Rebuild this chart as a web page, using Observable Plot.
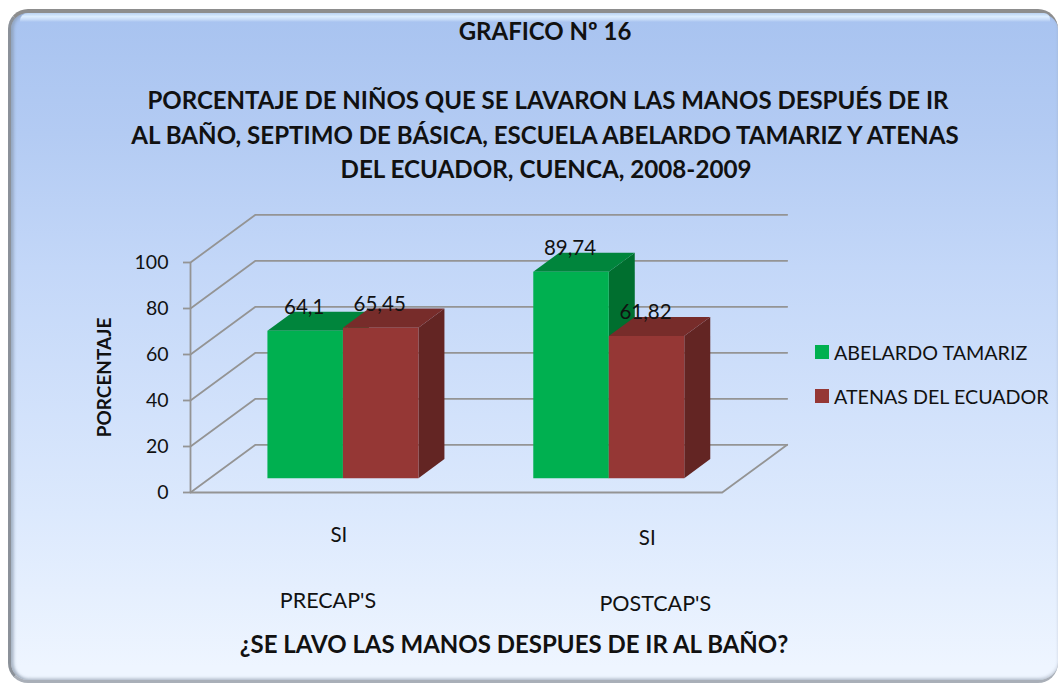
<!DOCTYPE html>
<html>
<head>
<meta charset="utf-8">
<script src="https://cdn.jsdelivr.net/npm/d3@7"></script>
<script src="https://cdn.jsdelivr.net/npm/@observablehq/plot@0.6"></script>
<style>
html,body{margin:0;padding:0;background:#fff;}
#page{position:relative;width:1058px;height:684px;overflow:hidden;font-family:Lato,sans-serif;color:#111;}
#panel{position:absolute;left:8px;top:9px;width:1050px;height:674px;box-sizing:border-box;border-radius:20px;
 border-top:4px solid #8d8d8d;border-left:3px solid #8b9199;border-bottom:3px solid #a9afb8;
 box-shadow:inset 3px 0 3px rgba(130,145,165,.55), inset 0 -2px 3px rgba(150,160,175,.4);
 background:linear-gradient(180deg,#a8c3f0 0%,#b3cbf3 18%,#c3d7f8 38%,#dce9fd 75%,#eef5ff 98%);}
#shine{position:absolute;left:20px;top:13px;width:1030px;height:9px;border-radius:8px 6px 0 0;
 background:linear-gradient(180deg,#b9d2f2 0%,#dcedff 40%,#c8dcf8 70%,#a9c4f0 100%);}
.t{position:absolute;white-space:nowrap;transform:translate(-50%,-50%);font-weight:700;font-size:24px;}
.lg{position:absolute;left:834px;transform:translateY(-50%);font-size:19.7px;white-space:nowrap;}
.sw{position:absolute;left:815px;width:14px;height:14px;transform:translateY(-50%);}
#chart{position:absolute;left:0;top:0;}
#chart svg{display:block;}
</style>
</head>
<body>
<div id="page">
 <div id="panel"></div><div id="shine"></div>
 <div id="chart"></div>
 <div class="t" style="left:545px;top:30px">GRAFICO Nº 16</div>
 <div class="t" style="left:548px;top:99px">PORCENTAJE DE NIÑOS QUE SE LAVARON LAS MANOS DESPUÉS DE IR</div>
 <div class="t" style="left:545px;top:134px;font-size:24.1px">AL BAÑO, SEPTIMO DE BÁSICA, ESCUELA ABELARDO TAMARIZ Y ATENAS</div>
 <div class="t" style="left:546px;top:168px;font-size:24.2px">DEL ECUADOR, CUENCA, 2008-2009</div>
 <div class="t" style="left:514px;top:643px">¿SE LAVO LAS MANOS DESPUES DE IR AL BAÑO?</div>
 <div class="sw" style="top:352px;background:#00b050"></div>
 <div class="lg" style="top:352px">ABELARDO TAMARIZ</div>
 <div class="sw" style="top:396px;background:#953735"></div>
 <div class="lg" style="top:396px">ATENAS DEL ECUADOR</div>
</div>
<script>
// Data
const groups = ["PRECAP'S", "POSTCAP'S"];
const answer = "SI";
const schools = ["ABELARDO TAMARIZ", "ATENAS DEL ECUADOR"];
const abelardo = [64.1, 89.74];
const atenas = [65.45, 61.82];
const yTicks = [0, 20, 40, 60, 80, 100];

// Styles and 3D projection (x in category units, y in percent, d = depth 0..1)
const front = ["#00b050", "#953735"], top_ = ["#00853c", "#772c2a"], side = ["#006f2f", "#632523"];
const kx = 0.2445, ky = 20.74;
const P = (x, y, d) => ({x: x + kx * d, y: y + ky * d});
const barW = 0.284, d0 = 0.3, d1 = 0.7, gridColor = "#949494";

const bars = [];
groups.forEach((g, i) => {
  [abelardo, atenas].forEach((vals, s) => {
    bars.push({g: i, s, v: vals[i], x0: i + 0.5 + (s - 1) * barW, x1: i + 0.5 + s * barW});
  });
});
const faces = bars.flatMap((b, n) => {
  const side_ = [[b.x1, 0, d0], [b.x1, 0, d1], [b.x1, b.v, d1], [b.x1, b.v, d0]];
  const topF = [[b.x0, b.v, d0], [b.x1, b.v, d0], [b.x1, b.v, d1], [b.x0, b.v, d1]];
  const frontF = [[b.x0, 0, d0], [b.x1, 0, d0], [b.x1, b.v, d0], [b.x0, b.v, d0]];
  return [[side_, side[b.s], "s"], [topF, top_[b.s], "t"], [frontF, front[b.s], "f"]]
    .flatMap(([pts, fill, k]) => pts.map(p => ({...P(...p), fill, z: n + k})));
});
const walls = yTicks.flatMap(t => [[0, t, 0], [0, t, 1], [2, t, 1]].map(p => ({...P(...p), z: t})));
const floor = [[0, 0, 0], [2, 0, 0], [2, 0, 1]].map(p => ({...P(...p)}));
const fmt = v => String(v).replace(".", ",");
const txt = {fontFamily: "Lato, sans-serif", fill: "#111", textAnchor: "middle", lineAnchor: "middle"};

const chart = Plot.plot({
  width: 1058, height: 684,
  marginLeft: 190, marginRight: 336.3, marginTop: 262, marginBottom: 192,
  style: {background: "transparent"},
  x: {domain: [0, 2], axis: null},
  y: {domain: [0, 100]},
  color: {type: "identity"},
  marks: [
    Plot.line(walls, {x: "x", y: "y", z: "z", stroke: gridColor, strokeWidth: 1.8}),
    Plot.line(floor, {x: "x", y: "y", stroke: gridColor, strokeWidth: 1.8}),
    Plot.ruleX([0], {y1: 0, y2: 100, stroke: gridColor, strokeWidth: 1.8}),
    Plot.axisY({ticks: yTicks, label: null, tickSize: 7, tickPadding: 15, stroke: gridColor, strokeWidth: 1.8,
      fontSize: 19.5, fontFamily: "Lato, sans-serif", fill: "#111"}),
    Plot.line(faces, {x: "x", y: "y", z: "z", fill: "fill", stroke: "none"}),
    Plot.text(bars, {x: b => P((b.x0 + b.x1) / 2, b.v, d0).x, y: b => P((b.x0 + b.x1) / 2, b.v, d0).y, text: b => fmt(b.v), dx: -1, dy: -23.5, ...txt, fontSize: 20.5}),
    Plot.text([answer], {x: 0.5, y: 0, dx: 15.5, dy: 43, ...txt, fontSize: 20.5}),
    Plot.text([answer], {x: 1.5, y: 0, dx: 58, dy: 45.5, ...txt, fontSize: 20.5}),
    Plot.text([groups[0]], {x: 0.5, y: 0, dx: 4.5, dy: 109, ...txt, fontSize: 21.5}),
    Plot.text([groups[1]], {x: 1.5, y: 0, dx: 66, dy: 112, ...txt, fontSize: 21.5}),
    Plot.text(["PORCENTAJE"], {x: 0, y: 50, dx: -86, dy: 0, rotate: -90, ...txt, fontSize: 19, fontWeight: 700})
  ]
});
document.getElementById("chart").appendChild(chart);
</script>
</body>
</html>
